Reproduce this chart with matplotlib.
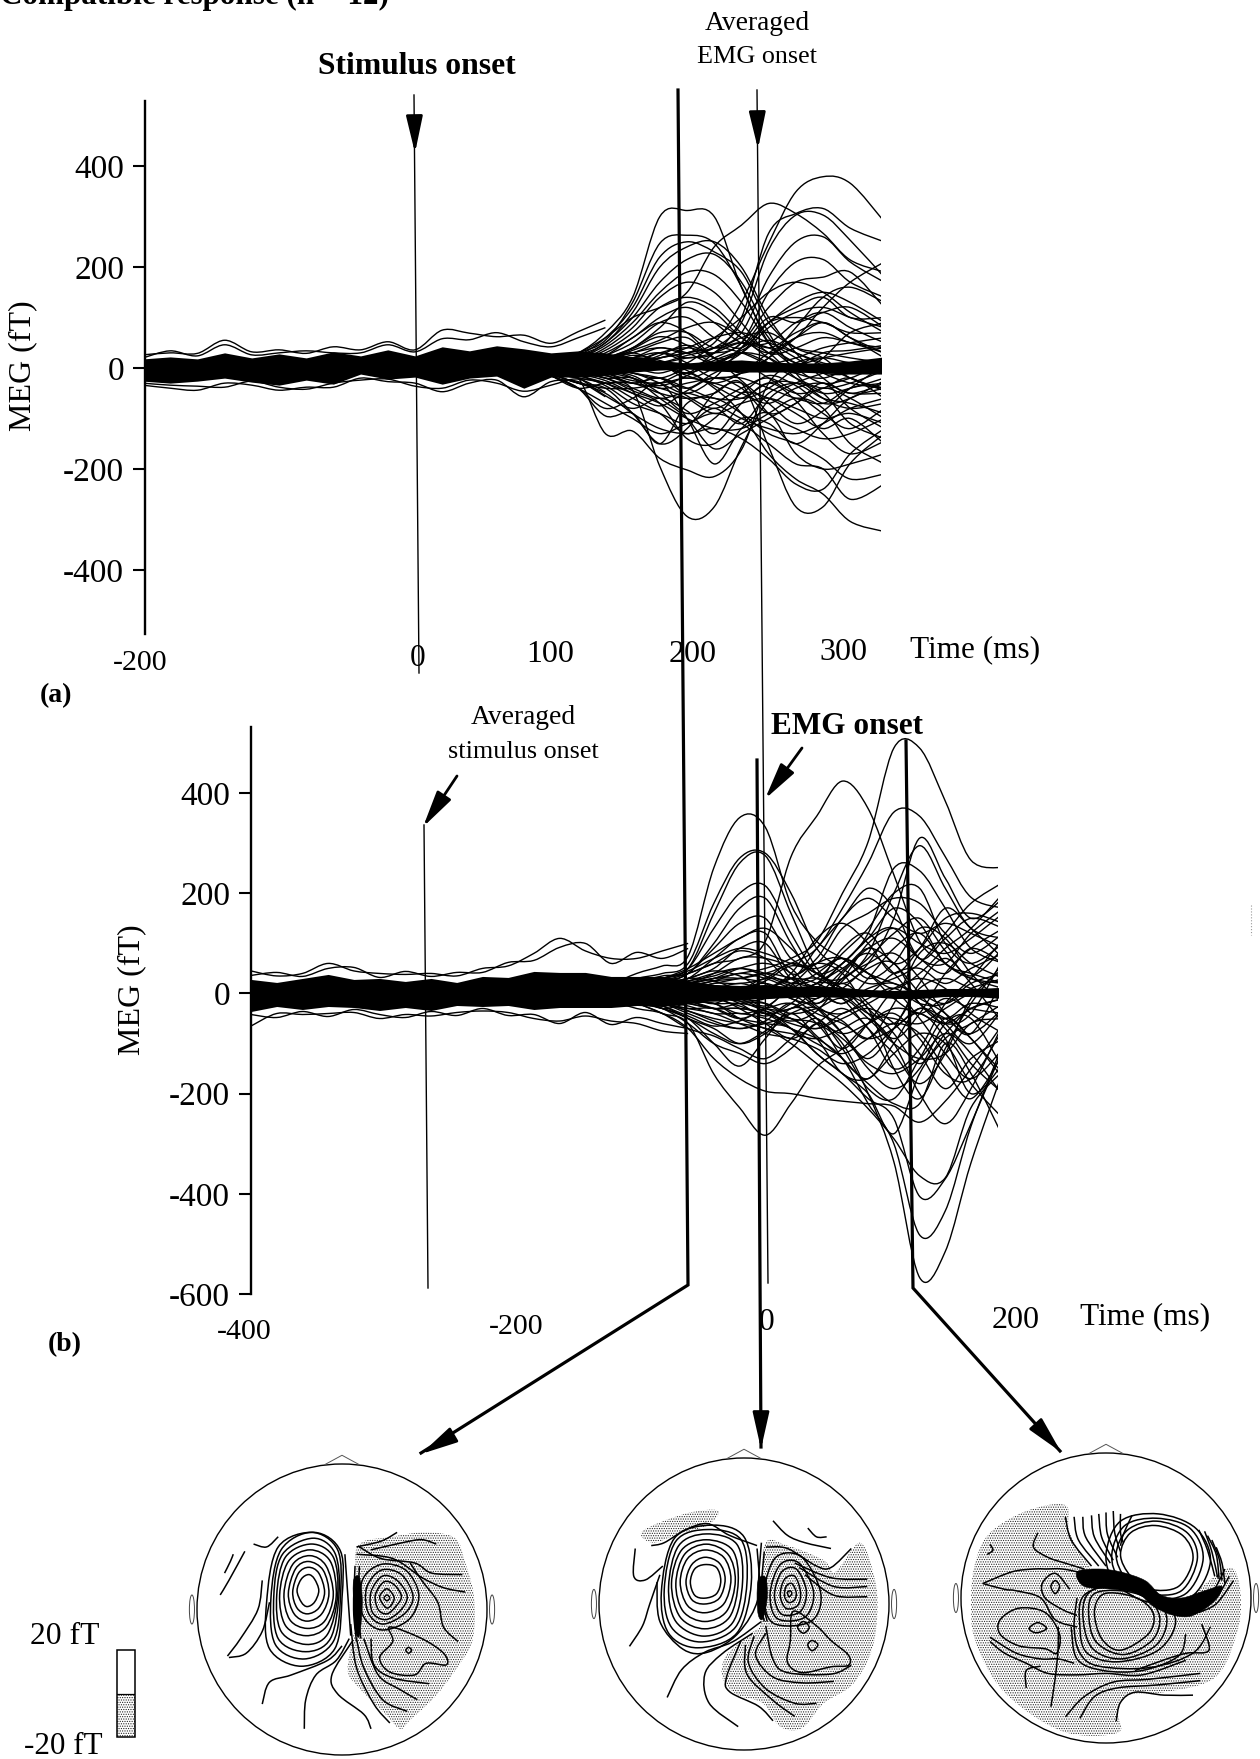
import numpy as np
import matplotlib
matplotlib.use('Agg')
import matplotlib.pyplot as plt
from matplotlib.patches import Ellipse, PathPatch, Polygon, Rectangle
from matplotlib.path import Path

plt.rcParams['font.family'] = ['Liberation Serif', 'DejaVu Serif']
plt.rcParams['hatch.linewidth'] = 0.55

W, H = 1260, 1759

# ---- panel (a) data: baseline band and fan of channels, fT against ms
band_a_t = [-200, -180, -160, -140, -120, -100, -80, -60, -40, -20, 0, 20, 40, 60, 80, 100, 120, 140,
            160, 180, 200, 220, 240, 260, 280, 300, 320, 345]
band_a_solid_top = [18, 22, 18, 30, 20, 28, 20, 32, 24, 36, 24, 42, 34, 44, 38, 30, 34, 30,
                    22, 15, 10, 14, 16, 12, 10, 10, 14, 22]
band_a_solid_bot = [-26, -30, -26, -20, -28, -34, -24, -32, -12, -22, -18, -32, -20, -16, -40, -18, -18, -15,
                    -8, -4, -2, -6, -8, -8, -8, -10, -12, -12]
edge_a_top = [26, 30, 29, 55, 32, 36, 29, 42, 36, 52, 36, 75, 69, 62, 65, 49, 72, 95]
edge_a_bot = [-34, -40, -44, -30, -34, -44, -38, -38, -20, -27, -30, -47, -30, -24, -57, -27, -27, -57]
edge_a_top2 = [20, 34, 24, 46, 26, 30, 34, 30, 30, 46, 32, 58, 56, 70, 52, 42, 60, 80]
edge_a_bot2 = [-30, -34, -36, -38, -26, -38, -42, -30, -24, -22, -36, -40, -24, -30, -46, -34, -22, -48]

fan_a_t = [100, 120, 140, 160, 180, 200, 220, 240, 260, 280, 300, 320, 345]
fan_a_lead = [15, 15, 12, 12, 10, 10, 8, 8, 6, 6, 5, 4, 3, 3, 15, 3, 0, 0, 0, 3, 0, 3, -3,
              -10, -10, -15, -12, -12, -15, -15, -12, -10, -8, -5, -5, -3, -3, 0, 0, 3, 3, 5, 5, 8, 0, -15, -3]
fan_a = [
    [30, 70, 140, 300, 312, 300, 160, 60, 20, -10, -30, -40],
    [30, 55, 130, 247, 263, 247, 161, 50, 0, -30, -20, 10],
    [25, 60, 120, 220, 250, 230, 190, 90, 40, 20, -20, -40],
    [25, 50, 110, 200, 240, 250, 200, 100, 30, -20, -50, -30],
    [20, 50, 100, 170, 215, 225, 170, 70, -10, -60, -80, -70],
    [20, 45, 90, 150, 190, 185, 130, 50, 10, 20, 30, 40],
    [15, 40, 80, 140, 170, 150, 90, 30, 40, 60, 50, 30],
    [15, 35, 70, 120, 140, 120, 70, 40, 70, 90, 60, 20],
    [10, 30, 60, 100, 120, 90, 50, 50, 90, 110, 80, 50],
    [10, 25, 50, 90, 100, 60, 40, 90, 130, 150, 130, 90],
    [10, 20, 40, 70, 70, 40, 50, 30, -20, -50, -40, -20],
    [5, 20, 30, 50, 60, 20, 30, 80, 110, 120, 100, 80],
    [5, 15, 30, 40, 30, 10, 40, 90, 100, 90, 70, 70],
    [5, 10, 20, 30, 10, -20, -10, 20, 60, 70, 50, 40],
    [30, 60, 100, 120, 150, 240, 283, 326, 306, 267, 214, 190],
    [5, 0, 5, 20, 30, 50, 130, 247, 349, 379, 366, 290],
    [0, 5, 10, 10, 20, 30, 100, 267, 306, 316, 277, 250],
    [0, 0, 5, 10, 25, 40, 90, 234, 303, 303, 253, 180],
    [0, 5, 10, 20, 30, 40, 70, 180, 250, 260, 210, 170],
    [5, 5, 10, 30, 40, 30, 50, 150, 210, 215, 170, 140],
    [0, 0, -10, -20, 0, 20, 50, 120, 170, 180, 190, 120],
    [5, 10, 20, 10, -20, 0, 30, 90, 120, 140, 100, 100],
    [-5, -10, -10, -30, -50, -20, 40, 100, 90, 110, 120, 80],
    [-20, -30, -44, -195, -294, -275, -156, -63, -30, -10, 10, 0],
    [-20, -130, -125, -179, -202, -215, -162, -30, 10, 20, 10, 0],
    [-40, -30, -30, -50, -60, -50, -30, -156, -275, -275, -189, -130],
    [-30, -40, -40, -30, -10, -40, -90, -170, -220, -250, -304, -324],
    [-30, -50, -90, -120, -130, -120, -140, -180, -230, -240, -170, -120],
    [-40, -70, -100, -130, -110, -90, -110, -150, -190, -200, -260, -230],
    [-40, -95, -90, -150, -70, -60, -90, -130, -150, -180, -220, -210],
    [-30, -40, -90, -150, -120, -50, -30, -90, -120, -140, -130, -100],
    [-20, -30, -60, -90, -130, -100, -50, -60, -90, -120, -100, -150],
    [-15, -30, -50, -70, -100, -120, -120, -90, -60, -80, -150, -190],
    [-10, -20, -40, -60, -50, -70, -100, -120, -130, -110, -80, -60],
    [-10, -15, -30, -40, -60, -90, -70, -60, -80, -100, -90, -110],
    [-5, -20, -20, -50, -90, -70, -40, -20, -50, -90, -120, -80],
    [-5, -10, -30, -20, -40, -60, -60, -30, -30, -60, -70, -90],
    [0, -10, -25, -30, -20, -30, -50, -70, -40, -30, -50, -50],
    [0, -5, -15, -40, -30, -20, -20, -40, -60, -70, -40, -30],
    [5, 0, -10, -20, -40, -10, 10, -20, -50, -40, -20, -60],
    [5, 10, 0, 10, -10, 10, 30, 20, -10, -20, 0, 10],
    [10, 5, 10, 30, 20, 30, 50, 40, 10, -10, -10, 20],
    [10, 15, 20, 20, 40, 60, 70, 50, 30, 10, 0, -10],
    [15, 20, 30, 10, -10, 30, 60, 70, 40, 30, 20, 10],
    [0, -5, 0, -10, 10, 40, 30, 10, 20, 40, 50, 60],
    [-40, -80, -60, -30, -100, -190, -120, -90, -170, -200, -190, -170],
    [-5, -5, -20, -60, -100, -160, -130, -100, -70, -40, -60, -100],
]
fan_a_extra = [
    [5, 10, 20, 40, 80, 130, 110, 60, 30, 60, 120, 170, 210],
    [5, 12, 25, 60, 90, 70, 20, -10, 20, 80, 140, 160, 130],
    [3, 8, 15, 35, 55, 80, 90, 60, 20, -10, 20, 70, 90],
    [3, 5, 10, 20, 40, 30, 60, 100, 150, 170, 150, 110, 70],
    [0, 3, 8, 15, 5, -15, -30, -10, 30, 60, 90, 60, 30],
    [0, -3, -8, -20, -35, -15, 15, 30, 10, -20, -40, -30, -5],
    [-3, -8, -15, -30, -20, -55, -80, -50, -15, -35, -70, -60, -25],
    [-5, -12, -25, -50, -75, -45, -20, -40, -90, -70, -30, -80, -120],
    [-5, -15, -35, -70, -90, -110, -80, -110, -50, -30, -50, -110, -140],
    [-3, -10, -20, -45, -70, -140, -150, -100, -110, -150, -110, -60, -40],
    [-8, -20, -55, -80, -60, -85, -130, -70, -30, -65, -130, -170, -145],
    [0, 5, -5, 5, 25, 45, 20, -25, -70, -110, -85, -40, 5],
    [2, 6, 10, 25, 15, -5, -35, -60, -40, 0, 30, 35, 45],
    [4, 10, 18, 38, 62, 45, 10, 35, 55, 30, 5, -20, -45],
]

# ---- panel (b) data
band_b_t = [-400, -380, -360, -340, -320, -300, -280, -260, -240, -220, -200, -180, -160, -140, -120, -100,
            -80, -60, -40, -20, 0, 20, 40, 60, 80, 100, 120, 140, 160, 185]
band_b_solid_top = [28, 22, 30, 38, 28, 30, 24, 30, 22, 34, 32, 44, 42, 42, 34, 34,
                    34, 26, 18, 16, 18, 14, 16, 12, 8, 6, 8, 10, 10, 12]
band_b_solid_bot = [-36, -26, -32, -26, -28, -34, -28, -34, -24, -26, -24, -32, -28, -28, -28, -24,
                    -26, -20, -14, -12, -10, -8, -6, -8, -6, -10, -10, -6, -6, -10]
edge_b_top = [45, 35, 40, 60, 45, 40, 38, 40, 35, 50, 55, 80, 110, 85, 70, 70, 85, 100]
edge_b_bot = [-65, -40, -42, -40, -38, -50, -42, -45, -38, -35, -38, -50, -55, -45, -55, -60, -75, -80]
edge_b_top2 = [36, 42, 34, 50, 52, 32, 44, 34, 42, 42, 62, 66, 92, 100, 60, 82, 70, 90]
edge_b_bot2 = [-42, -48, -36, -46, -32, -42, -48, -36, -44, -30, -44, -42, -60, -38, -62, -48, -60, -70]

fan_b_t = [-120, -100, -80, -60, -40, -20, 0, 20, 40, 60, 80, 100, 120, 140, 160, 185]
fan_b_lead = [18, 10, 5, 5, 15, 12, 10, 8, 8, 5, 5, 3, 3, 3, 0, 0, 0, -3, -10, -15, -5, -3, -5, -5, -10,
              -8, -8, -5, -5, -3, -3, -3, 0, 0, 0, 3, 3, 3, 5, 5, 8, 8, -5, 0, 0, 10, 0]
fan_b = [
    [40, 55, 75, 251, 351, 332, 178, 104, 70, 40, 20, 0, -20, 10, 30],
    [20, 30, 40, 60, 70, 104, 273, 354, 424, 369, 237, 104, 60, 30, 10],
    [10, 20, 20, 30, 40, 50, 70, 104, 200, 303, 490, 490, 384, 266, 251],
    [10, 10, 15, 25, 30, 40, 60, 90, 170, 260, 362, 354, 273, 192, 170],
    [30, 40, 60, 180, 270, 280, 200, 90, 50, 20, 30, 60, 120, 180, 222],
    [25, 35, 50, 160, 260, 275, 160, 50, 20, 60, 150, 310, 230, 150, 190],
    [20, 30, 50, 130, 200, 215, 120, 40, 30, 80, 200, 295, 210, 130, 110],
    [15, 25, 40, 100, 170, 190, 100, 30, 60, 120, 250, 245, 170, 90, 60],
    [15, 20, 40, 90, 140, 150, 70, 60, 130, 160, 190, 180, 120, 80, 120],
    [10, 20, 30, 70, 110, 120, 40, 70, 150, 190, 150, 120, 140, 120, 90],
    [10, 15, 30, 50, 90, 100, 30, 20, 90, 120, 60, 90, 150, 160, 140],
    [5, 15, 20, 40, 70, 70, 50, 0, 30, 100, 130, 100, 80, 110, 160],
    [5, 10, 20, 30, 50, 60, 40, -20, 40, 90, 110, 70, 40, 90, 60],
    [5, 5, 10, 20, 30, 40, 30, 10, -20, 30, 90, 120, 60, 30, 20],
    [0, 5, 5, 20, 20, 30, 60, 40, 10, 0, 40, 50, 20, 50, 80],
    [0, 0, 5, 10, 20, 10, 30, 60, 40, -30, -60, 10, 30, 10, -10],
    [0, 0, 0, 0, 10, 0, 10, 40, 70, 40, -10, -40, -10, -30, -40],
    [-5, -5, 0, 5, 0, -10, 0, 20, 50, 80, 40, -20, -50, -20, -30],
    [-20, -40, -60, -161, -228, -283, -220, -147, -110, -60, -30, -40, -60, -30, -10],
    [-30, -40, -70, -130, -170, -195, -200, -209, -215, -220, -225, -257, -215, -150, -60],
    [-10, -15, -10, -20, -20, -30, -50, -60, -100, -200, -336, -567, -515, -338, -154],
    [-5, -15, -20, -30, -30, -40, -70, -90, -130, -220, -300, -482, -434, -265, -100],
    [-10, -20, -30, -30, -50, -60, -70, -120, -160, -210, -250, -405, -370, -260, -110],
    [-10, -20, -35, -50, -60, -70, -100, -140, -180, -230, -290, -364, -368, -228, -154],
    [-20, -30, -50, -100, -145, -90, -30, -50, -130, -180, -220, -220, -100, -160, -287],
    [-15, -30, -60, -100, -120, -140, -110, -60, -90, -140, -160, -130, -80, -120, -205],
    [-15, -25, -50, -70, -100, -80, -40, -30, -80, -150, -190, -150, -60, -50, -150],
    [-10, -20, -40, -60, -70, -60, -50, -90, -160, -170, -120, -80, -100, -180, -250],
    [-10, -20, -30, -40, -60, -80, -90, -110, -140, -120, -70, -40, -90, -200, -140],
    [-5, -15, -25, -40, -40, -50, -70, -100, -120, -90, -60, -80, -150, -210, -120],
    [-5, -10, -20, -30, -30, -40, -60, -70, -50, -30, -60, -120, -190, -130, -90],
    [-5, -10, -15, -20, -40, -30, -20, -50, -80, -60, -40, -90, -160, -170, -70],
    [0, -10, -15, -30, -20, -20, -40, -30, -10, -50, -100, -130, -120, -60, -50],
    [0, -5, -10, -15, -10, 0, -10, -40, -60, -90, -70, -30, -50, -80, -30],
    [0, 0, -5, -10, -25, -40, -30, -10, 20, -20, -80, -140, -80, -30, -10],
    [5, 0, 0, -5, -15, -10, 20, 30, 0, -40, -50, -60, -30, 0, 10],
    [5, 5, 0, 5, 10, 20, 0, -30, -40, -10, 10, -20, -20, 20, 40],
    [5, 5, 10, 15, 10, 10, 30, 20, -10, -70, -120, -180, -120, -10, 50],
    [10, 10, 15, 25, 40, 30, 10, -10, 30, 60, 80, 30, -40, -80, 30],
    [10, 15, 20, 30, 30, 20, -10, -20, 10, 50, 60, -20, -60, -40, 70],
    [15, 20, 20, 10, -10, -30, -30, 10, 60, 110, 170, 140, 60, 40, 20],
    [15, 15, 25, 40, 50, 40, 20, 30, 80, 130, 200, 210, 100, 60, 100],
    [-10, -30, -20, -20, -50, -70, -80, -90, -70, -50, -100, -200, -260, -190, -60],
    [0, 10, 10, 0, -10, -20, -50, -70, -40, -20, 10, 30, 10, -40, -80],
    [0, -5, 5, 10, 5, -5, 10, 0, -20, 10, 20, -10, -40, -90, -160],
    [20, 30, 45, 70, 90, 80, 60, 50, 70, 40, 10, 40, 90, 130, 200],
    [0, 5, 10, -5, -30, -60, -90, -60, -30, -70, -150, -110, -20, 30, 110],
]
fan_b_extra = [
    [8, 18, 30, 50, 80, 110, 130, 90, 40, 60, 110, 130, 70, 60, 120, 170],
    [6, 14, 25, 40, 60, 85, 70, 30, 90, 150, 210, 170, 70, 110, 150, 130],
    [4, 10, 20, 30, 45, 35, 10, 40, 110, 140, 100, 40, 90, 170, 130, 70],
    [2, 6, 12, 20, 15, 0, -25, 15, 60, 70, 30, 60, 130, 110, 40, -20],
    [0, 3, 5, 10, 0, -20, -45, -20, 20, 10, -40, -90, -40, 40, 90, 130],
    [-2, -5, -10, -15, -30, -50, -30, 5, -30, -80, -130, -70, 20, 70, 20, -60],
    [-4, -10, -20, -35, -55, -70, -55, -20, -60, -110, -60, 0, -50, -120, -170, -110],
    [-6, -15, -30, -50, -80, -100, -75, -40, -85, -130, -170, -100, -30, -70, -140, -200],
    [-8, -20, -40, -70, -85, -110, -130, -90, -50, -110, -190, -210, -130, -50, -90, -170],
    [-5, -12, -25, -45, -65, -55, -35, -70, -120, -160, -200, -280, -160, -90, -60, -20],
    [3, 8, 15, 30, 25, 10, 25, 55, 40, 0, -30, -150, -210, -110, -20, 60],
    [5, 12, 18, 25, 35, 50, 35, 15, 0, 45, 90, 60, 0, -60, -100, -30],
    [-3, -6, -12, -8, -20, 5, 30, 20, -25, -55, -90, -20, 80, 100, 60, 30],
    [2, 4, 8, 15, 5, -15, -35, -55, -35, 25, 70, 120, 150, 85, 35, 90],
]

yticks_a = [-400, -200, 0, 200, 400]
yticks_b = [-600, -400, -200, 0, 200, 400]

# ---- head maps, in head coordinates (-1..1 in both directions)
h1_rings = [
    [(-0.16, 0.13), (-0.19, 0.21), (-0.23, 0.24), (-0.28, 0.21), (-0.31, 0.13), (-0.28, 0.05), (-0.24, 0.02), (-0.19, 0.05)],
    [(-0.12, 0.12), (-0.16, 0.25), (-0.23, 0.29), (-0.3, 0.25), (-0.34, 0.12), (-0.31, 0.01), (-0.24, -0.03), (-0.16, 0.01)],
    [(-0.09, 0.11), (-0.13, 0.27), (-0.23, 0.33), (-0.32, 0.28), (-0.37, 0.11), (-0.33, -0.03), (-0.24, -0.08), (-0.14, -0.03)],
    [(-0.06, 0.1), (-0.11, 0.3), (-0.22, 0.37), (-0.34, 0.31), (-0.4, 0.11), (-0.36, -0.07), (-0.24, -0.13), (-0.12, -0.08)],
    [(-0.04, 0.09), (-0.08, 0.33), (-0.22, 0.41), (-0.37, 0.33), (-0.43, 0.1), (-0.39, -0.11), (-0.25, -0.18), (-0.11, -0.12)],
    [(-0.03, 0.1), (-0.06, 0.36), (-0.21, 0.45), (-0.39, 0.36), (-0.45, 0.1), (-0.42, -0.15), (-0.25, -0.24), (-0.1, -0.17)],
    [(-0.02, 0.12), (-0.05, 0.39), (-0.2, 0.49), (-0.41, 0.38), (-0.47, 0.1), (-0.44, -0.2), (-0.25, -0.29), (-0.08, -0.2)],
    [(-0.01, 0.1), (-0.03, 0.41), (-0.21, 0.53), (-0.42, 0.41), (-0.49, 0.08), (-0.46, -0.24), (-0.26, -0.34), (-0.06, -0.22)],
    [(0.0, 0.08), (-0.01, 0.4), (-0.19, 0.53), (-0.44, 0.43), (-0.52, 0.05), (-0.5, -0.27), (-0.28, -0.39), (-0.05, -0.27)],
    [(0.36, 0.08), (0.33, 0.13), (0.3, 0.14), (0.26, 0.09), (0.28, 0.04), (0.31, 0.01), (0.34, 0.03)],
    [(0.41, 0.09), (0.36, 0.17), (0.29, 0.19), (0.23, 0.1), (0.25, 0.0), (0.31, -0.03), (0.37, 0.02)],
    [(0.45, 0.09), (0.38, 0.2), (0.28, 0.23), (0.2, 0.12), (0.21, -0.02), (0.3, -0.07), (0.4, -0.01)],
    [(0.49, 0.09), (0.41, 0.24), (0.27, 0.27), (0.17, 0.15), (0.18, -0.02), (0.28, -0.1), (0.43, -0.03)],
    [(0.53, 0.1), (0.44, 0.27), (0.27, 0.31), (0.14, 0.2), (0.14, -0.03), (0.27, -0.14), (0.46, -0.07)],
    [(0.33, 0.08), (0.31, 0.1), (0.29, 0.08), (0.31, 0.06)],
    [(0.48, -0.28), (0.46, -0.26), (0.44, -0.28), (0.46, -0.3)],
    [(0.33, -0.12), (0.55, -0.2), (0.7, -0.3), (0.72, -0.38), (0.58, -0.37), (0.5, -0.45), (0.33, -0.43), (0.26, -0.33), (0.35, -0.22)],
]
h1_open = [
    [(-0.61, 0.45), (-0.52, 0.43), (-0.44, 0.5)],
    [(-0.81, 0.25), (-0.77, 0.33), (-0.75, 0.38)],
    [(-0.84, 0.1), (-0.78, 0.2), (-0.67, 0.4)],
    [(-0.79, -0.32), (-0.7, -0.2), (-0.58, 0.0), (-0.55, 0.2)],
    [(-0.78, -0.33), (-0.66, -0.3), (-0.55, -0.15), (-0.5, 0.05)],
    [(-0.55, -0.65), (-0.5, -0.5), (-0.35, -0.45), (-0.1, -0.35), (0.0, -0.25)],
    [(-0.26, -0.82), (-0.25, -0.62), (-0.18, -0.45), (-0.04, -0.35), (0.05, -0.2)],
    [(0.2, -0.82), (0.15, -0.72), (-0.03, -0.58), (-0.07, -0.45), (0.07, -0.22)],
    [(0.06, -0.1), (0.1, -0.4), (0.22, -0.65), (0.33, -0.78)],
    [(0.1, -0.2), (0.15, -0.4), (0.28, -0.62), (0.45, -0.7)],
    [(0.15, -0.2), (0.25, -0.45), (0.4, -0.55), (0.52, -0.62)],
    [(0.2, -0.2), (0.22, -0.38), (0.35, -0.47), (0.6, -0.51)],
    [(0.12, 0.43), (0.27, 0.35), (0.5, 0.32), (0.62, 0.25), (0.83, 0.24)],
    [(0.1, 0.38), (0.35, 0.35), (0.55, 0.22), (0.7, 0.15), (0.85, 0.12)],
    [(0.47, 0.32), (0.55, 0.2), (0.66, 0.05), (0.7, -0.12), (0.8, -0.22)],
    [(0.1, 0.43), (0.27, 0.47), (0.38, 0.53)],
    [(0.2, 0.41), (0.42, 0.46), (0.55, 0.48), (0.65, 0.45)],
    [(0.09, 0.3), (0.08, 0.0), (0.1, -0.22)],
    [(0.12, 0.3), (0.11, 0.0), (0.13, -0.2)],
    [(0.02, 0.38), (0.04, 0.1), (0.06, -0.18)],
]
h1_stipple = [(0.58, 0.53), (0.78, 0.49), (0.85, 0.32), (0.91, 0.09), (0.9, -0.21), (0.78, -0.42), (0.64, -0.6), (0.47, -0.76),
              (0.4, -0.82), (0.3, -0.72), (0.1, -0.52), (0.04, -0.42), (0.07, -0.21), (0.13, 0.0), (0.1, 0.42), (0.35, 0.5)]
h1_black = [(0.08, 0.2), (0.12, 0.22), (0.14, 0.05), (0.12, -0.18), (0.09, -0.14), (0.08, 0.02)]

h2_rings = [
    [(-0.16, 0.16), (-0.19, 0.25), (-0.27, 0.27), (-0.34, 0.24), (-0.37, 0.15), (-0.34, 0.06), (-0.27, 0.04), (-0.19, 0.07)],
    [(-0.13, 0.17), (-0.17, 0.28), (-0.27, 0.32), (-0.36, 0.27), (-0.4, 0.15), (-0.36, 0.03), (-0.27, 0.0), (-0.17, 0.04)],
    [(-0.09, 0.17), (-0.14, 0.32), (-0.27, 0.37), (-0.39, 0.31), (-0.44, 0.15), (-0.39, -0.01), (-0.27, -0.06), (-0.14, 0.0)],
    [(-0.06, 0.16), (-0.11, 0.34), (-0.26, 0.41), (-0.41, 0.34), (-0.47, 0.14), (-0.42, -0.05), (-0.27, -0.12), (-0.12, -0.05)],
    [(-0.04, 0.15), (-0.08, 0.37), (-0.26, 0.44), (-0.43, 0.37), (-0.5, 0.14), (-0.44, -0.09), (-0.27, -0.17), (-0.1, -0.09)],
    [(-0.01, 0.15), (-0.05, 0.41), (-0.26, 0.48), (-0.45, 0.4), (-0.52, 0.12), (-0.47, -0.12), (-0.28, -0.22), (-0.08, -0.13)],
    [(0.02, 0.14), (-0.02, 0.44), (-0.25, 0.51), (-0.47, 0.43), (-0.55, 0.1), (-0.5, -0.16), (-0.3, -0.26), (-0.06, -0.16)],
    [(0.05, 0.14), (0.0, 0.46), (-0.22, 0.54), (-0.48, 0.45), (-0.57, 0.08), (-0.52, -0.2), (-0.32, -0.3), (-0.05, -0.2)],
    [(0.33, 0.07), (0.32, 0.09), (0.3, 0.08), (0.31, 0.05)],
    [(0.36, 0.08), (0.33, 0.14), (0.29, 0.12), (0.28, 0.05), (0.31, 0.01), (0.35, 0.03)],
    [(0.39, 0.08), (0.35, 0.19), (0.28, 0.17), (0.25, 0.06), (0.29, -0.03), (0.37, -0.01)],
    [(0.43, 0.09), (0.36, 0.24), (0.26, 0.22), (0.21, 0.06), (0.26, -0.07), (0.39, -0.05)],
    [(0.48, 0.08), (0.38, 0.28), (0.25, 0.27), (0.18, 0.07), (0.23, -0.1), (0.42, -0.09)],
    [(0.53, 0.07), (0.4, 0.32), (0.22, 0.32), (0.14, 0.08), (0.2, -0.13), (0.46, -0.12)],
    [(0.45, -0.16), (0.41, -0.12), (0.37, -0.16), (0.41, -0.2)],
    [(0.51, -0.28), (0.47, -0.25), (0.44, -0.28), (0.47, -0.32)],
    [(0.34, -0.05), (0.5, -0.15), (0.6, -0.25), (0.72, -0.35), (0.72, -0.42), (0.6, -0.43), (0.4, -0.47), (0.3, -0.4), (0.32, -0.25)],
]
h2_open = [
    [(0.09, 0.38), (0.1, 0.05), (-0.04, -0.2), (-0.25, -0.33), (-0.42, -0.31), (-0.58, -0.12), (-0.6, 0.15)],
    [(-0.75, 0.38), (-0.76, 0.19), (-0.68, 0.165), (-0.56, 0.26)],
    [(-0.79, -0.29), (-0.7, -0.15), (-0.65, 0.0), (-0.58, 0.2)],
    [(-0.64, 0.4), (-0.55, 0.42), (-0.4, 0.51), (-0.25, 0.55), (-0.1, 0.47), (0.09, 0.4)],
    [(-0.53, -0.64), (-0.43, -0.45), (-0.27, -0.33), (-0.08, -0.26), (0.12, -0.12)],
    [(-0.04, -0.84), (-0.24, -0.68), (-0.27, -0.48), (-0.15, -0.34), (0.06, -0.2)],
    [(0.2, 0.57), (0.3, 0.47), (0.42, 0.42), (0.6, 0.38)],
    [(0.44, 0.52), (0.5, 0.46), (0.57, 0.46)],
    [(0.15, 0.39), (0.3, 0.38), (0.5, 0.26), (0.6, 0.25), (0.74, 0.38)],
    [(0.35, 0.28), (0.6, 0.18), (0.85, 0.17)],
    [(0.38, 0.25), (0.62, 0.12), (0.85, 0.12)],
    [(0.42, 0.2), (0.62, 0.06), (0.85, 0.05)],
    [(0.15, -0.15), (0.2, -0.38), (0.3, -0.47), (0.6, -0.48), (0.74, -0.42)],
    [(0.15, -0.2), (0.08, -0.35), (0.2, -0.5), (0.4, -0.54), (0.62, -0.53)],
    [(0.07, -0.22), (0.03, -0.4), (0.15, -0.58), (0.35, -0.68), (0.5, -0.68)],
    [(0.01, -0.28), (0.02, -0.48), (0.2, -0.66), (0.35, -0.77)],
    [(-0.02, -0.25), (-0.12, -0.5), (-0.1, -0.6), (0.1, -0.7), (0.2, -0.8)],
    [(0.12, 0.42), (0.1, 0.1), (0.14, -0.12)],
    [(0.14, 0.36), (0.12, 0.08), (0.16, -0.12)],
]
h2_stipple = [(0.14, 0.4), (0.3, 0.4), (0.55, 0.3), (0.63, 0.22), (0.8, 0.42), (0.9, 0.18), (0.92, -0.05), (0.88, -0.32),
              (0.75, -0.55), (0.55, -0.68), (0.4, -0.85), (0.25, -0.84), (0.13, -0.68), (-0.05, -0.62), (-0.15, -0.5),
              (-0.12, -0.35), (0.05, -0.2), (0.12, -0.1)]
h2_stipple2 = [(-0.7, 0.5), (-0.4, 0.62), (-0.18, 0.64), (-0.25, 0.54), (-0.45, 0.48), (-0.63, 0.42)]
h2_black = [(0.1, 0.17), (0.15, 0.18), (0.16, 0.04), (0.13, -0.1), (0.1, -0.08), (0.09, 0.04)]

h3_rings = [
    [(0.6, 0.27), (0.53, 0.43), (0.34, 0.5), (0.17, 0.45), (0.1, 0.3), (0.17, 0.15), (0.3, 0.06), (0.5, 0.08)],
    [(0.63, 0.27), (0.56, 0.45), (0.35, 0.53), (0.15, 0.47), (0.07, 0.3), (0.14, 0.13), (0.3, 0.03), (0.52, 0.05)],
    [(0.67, 0.27), (0.58, 0.48), (0.35, 0.55), (0.13, 0.5), (0.04, 0.3), (0.1, 0.12), (0.3, 0.0), (0.55, 0.03)],
    [(0.72, 0.25), (0.62, 0.48), (0.36, 0.58), (0.1, 0.53), (0.0, 0.3), (0.07, 0.1), (0.3, -0.03), (0.58, 0.0)],
    [(0.33, -0.12), (0.29, -0.25), (0.1, -0.36), (-0.03, -0.28), (-0.08, -0.1), (-0.03, 0.02), (0.1, 0.03), (0.25, -0.02)],
    [(0.37, -0.13), (0.32, -0.29), (0.12, -0.39), (-0.07, -0.3), (-0.12, -0.1), (-0.08, 0.03), (0.1, 0.05), (0.28, 0.0)],
    [(0.42, -0.15), (0.34, -0.33), (0.1, -0.42), (-0.1, -0.34), (-0.16, -0.1), (-0.1, 0.05), (0.12, 0.08), (0.33, 0.02)],
    [(0.48, -0.16), (0.36, -0.36), (0.08, -0.44), (-0.13, -0.38), (-0.18, -0.2), (-0.15, 0.02), (0.12, 0.1), (0.36, 0.02)],
    [(-0.41, -0.21), (-0.47, -0.17), (-0.53, -0.21), (-0.48, -0.24)],
    [(-0.32, 0.08), (-0.35, 0.12), (-0.38, 0.08), (-0.35, 0.03)],
    [(-0.32, -0.25), (-0.42, -0.1), (-0.6, -0.07), (-0.73, -0.15), (-0.73, -0.25), (-0.6, -0.33), (-0.42, -0.35), (-0.34, -0.38)],
]
h3_open = [
    [(0.72, -0.2), (0.6, -0.38), (0.3, -0.48), (-0.05, -0.47), (-0.18, -0.38), (-0.22, -0.2), (-0.2, 0.0)],
    [(0.66, -0.18), (0.71, -0.36), (0.56, -0.38), (0.42, -0.42), (0.2, -0.5)],
    [(0.55, -0.25), (0.5, -0.4), (0.25, -0.5), (-0.02, -0.5), (-0.2, -0.42), (-0.24, -0.2)],
    [(-0.25, 0.06), (-0.35, 0.17), (-0.44, 0.1), (-0.42, 0.0), (-0.3, -0.08), (-0.2, -0.12)],
    [(-0.85, 0.1), (-0.65, 0.18), (-0.5, 0.2), (-0.42, 0.2), (-0.3, 0.2), (-0.15, 0.17)],
    [(-0.85, 0.1), (-0.7, 0.06), (-0.62, 0.05), (-0.45, 0.0), (-0.35, -0.15), (-0.2, -0.2)],
    [(-0.8, 0.37), (-0.78, 0.33), (-0.82, 0.3)],
    [(-0.47, 0.45), (-0.5, 0.35), (-0.4, 0.28), (-0.28, 0.24), (-0.15, 0.2)],
    [(-0.8, -0.3), (-0.7, -0.38), (-0.55, -0.45), (-0.4, -0.52), (-0.2, -0.53), (0.0, -0.52), (0.25, -0.53), (0.55, -0.43)],
    [(-0.8, -0.27), (-0.62, -0.38), (-0.45, -0.42), (-0.33, -0.42), (-0.22, -0.45)],
    [(-0.55, -0.62), (-0.55, -0.5), (-0.45, -0.47)],
    [(-0.38, -0.75), (-0.35, -0.55), (-0.33, -0.35), (-0.33, -0.2)],
    [(-0.28, -0.82), (-0.15, -0.68), (0.05, -0.58), (0.3, -0.56), (0.65, -0.52)],
    [(-0.18, -0.83), (-0.08, -0.68), (0.08, -0.62), (0.35, -0.6), (0.65, -0.57)],
    [(0.07, -0.85), (0.1, -0.72), (0.2, -0.65), (0.4, -0.67), (0.6, -0.67)],
    [(-0.28, 0.56), (-0.24, 0.4), (-0.1, 0.22)],
    [(-0.22, 0.56), (-0.19, 0.4), (-0.05, 0.22)],
    [(-0.16, 0.56), (-0.14, 0.42), (0.0, 0.22)],
    [(-0.1, 0.57), (-0.08, 0.42), (0.03, 0.24)],
    [(-0.05, 0.58), (-0.03, 0.42), (0.05, 0.26)],
    [(0.0, 0.59), (0.01, 0.44), (0.08, 0.28)],
    [(0.05, 0.6), (0.06, 0.45), (0.1, 0.32)],
    [(0.1, 0.58), (0.1, 0.45), (0.12, 0.38)],
    [(0.18, 0.57), (0.12, 0.44), (0.1, 0.36)],
    [(0.64, 0.47), (0.7, 0.33), (0.75, 0.15)],
    [(0.68, 0.46), (0.73, 0.32), (0.77, 0.14)],
    [(0.7, 0.43), (0.76, 0.3), (0.78, 0.13)],
    [(0.73, 0.4), (0.78, 0.27), (0.8, 0.12)],
    [(0.76, 0.35), (0.8, 0.24), (0.82, 0.1)],
    [(0.82, 0.2), (0.76, 0.08), (0.7, 0.0)],
    [(0.85, 0.15), (0.78, 0.03), (0.7, -0.05)],
    [(0.88, 0.12), (0.76, -0.04), (0.64, -0.1)],
]
h3_stipple = [(-0.93, 0.0), (-0.9, 0.25), (-0.8, 0.45), (-0.55, 0.6), (-0.28, 0.64), (-0.25, 0.45), (-0.1, 0.2), (0.05, 0.1),
              (0.3, -0.02), (0.55, 0.0), (0.75, 0.15), (0.88, 0.2), (0.93, 0.0), (0.9, -0.25), (0.75, -0.55), (0.4, -0.65),
              (0.15, -0.67), (0.08, -0.78), (0.08, -0.93), (-0.3, -0.92), (-0.7, -0.65), (-0.9, -0.3)]
h3_black = [(-0.2, 0.18), (-0.05, 0.2), (0.1, 0.18), (0.27, 0.12), (0.38, 0.02), (0.52, 0.0), (0.68, 0.05), (0.8, 0.08),
            (0.75, -0.02), (0.6, -0.12), (0.47, -0.12), (0.33, -0.06), (0.22, 0.03), (0.05, 0.06), (-0.15, 0.08)]

nose = [(-0.12, 0.995), (0.0, 1.06), (0.12, 0.995)]


def smooth_path(pts, closed=False):
    # Catmull-Rom through the read points, written as bezier segments
    pts = np.asarray(pts, dtype=float)
    n = len(pts)
    verts = [pts[0]]
    codes = [Path.MOVETO]
    for i in range(n if closed else n - 1):
        if closed:
            p0, p1, p2, p3 = pts[(i - 1) % n], pts[i], pts[(i + 1) % n], pts[(i + 2) % n]
        else:
            p0, p1, p2, p3 = pts[max(i - 1, 0)], pts[i], pts[i + 1], pts[min(i + 2, n - 1)]
        verts += [p1 + (p2 - p0) / 6, p2 - (p3 - p1) / 6, p2]
        codes += [Path.CURVE4, Path.CURVE4, Path.CURVE4]
    return Path(verts, codes)


def draw_curve(ax, pts, closed=False, lw=1.0):
    ax.add_patch(PathPatch(smooth_path(pts, closed), fill=False, edgecolor='black', lw=lw))


def px_axes(x0, y0, x1, y1):
    # axes from a box given in picture pixels (y from the top)
    return fig.add_axes([x0 / W, 1 - y1 / H, (x1 - x0) / W, (y1 - y0) / H])


def draw_panel(ax, band_t, solid_top, solid_bot, edges, fan_t, leads, fan, extra, yticks):
    ax.fill_between(band_t, solid_top, solid_bot, color='black', lw=0)
    for edge in edges:
        draw_curve(ax, list(zip(band_t[:len(edge)], edge)))
    for lead, row in zip(leads, fan):
        draw_curve(ax, list(zip(fan_t, [lead] + row)))
    for row in extra:
        draw_curve(ax, list(zip(fan_t, row)))
    for side in ['top', 'right', 'bottom']:
        ax.spines[side].set_visible(False)
    ax.spines['left'].set_linewidth(1.7)
    ax.set_xticks([])
    ax.set_yticks(yticks)
    ax.set_yticklabels([str(v) for v in yticks])
    ax.tick_params(axis='y', length=9, width=1.5, labelsize=24, pad=6)
    ax.patch.set_alpha(0)


def draw_head(box, stipples, black):
    x0, y0, x1, y1 = box
    ax = px_axes(x0, y0, x1, y1)
    ax.set_xlim(-1, 1)
    ax.set_ylim(-1, 1)
    ax.axis('off')
    for poly in stipples:
        ax.add_patch(PathPatch(smooth_path(poly, True), facecolor='none', edgecolor='#222222', hatch='.......', lw=0))
    ax.add_patch(PathPatch(smooth_path(black, True), facecolor='black', edgecolor='black', lw=0.4))
    ax.add_patch(Ellipse((0, 0), 2, 2, fill=False, edgecolor='black', lw=1.0, clip_on=False))
    ax.add_patch(Polygon(nose, closed=False, fill=False, edgecolor='#555555', lw=0.7, clip_on=False))
    for sx in [-1, 1]:
        ax.add_patch(Ellipse((sx * 1.035, 0.0), 0.035, 0.2, fill=False, edgecolor='#444444', lw=0.7, clip_on=False))
    return ax


fig = plt.figure(figsize=(W / 100, H / 100), dpi=100, facecolor='white')

# panel (a)
ax_a = px_axes(145, 101, 881, 634)
ax_a.set_xlim(-198.5, 342.6)
ax_a.set_ylim(-527, 529)
draw_panel(ax_a, band_a_t, band_a_solid_top, band_a_solid_bot,
           [edge_a_top, edge_a_bot, edge_a_top2, edge_a_bot2],
           fan_a_t, fan_a_lead, fan_a, fan_a_extra, yticks_a)

# panel (b)
ax_b = px_axes(251, 727, 998, 1294)
ax_b.set_xlim(-400, 181)
ax_b.set_ylim(-600, 532)
draw_panel(ax_b, band_b_t, band_b_solid_top, band_b_solid_bot,
           [edge_b_top, edge_b_bot, edge_b_top2, edge_b_bot2],
           fan_b_t, fan_b_lead, fan_b, fan_b_extra, yticks_b)

# topographic maps
ax1 = draw_head((197, 1464, 487, 1755), [h1_stipple], h1_black)
ax2 = draw_head((599, 1458, 889, 1750), [h2_stipple, h2_stipple2], h2_black)
ax3 = draw_head((961, 1453, 1251, 1743), [h3_stipple], h3_black)
for ax, rings, opens in [(ax1, h1_rings, h1_open), (ax2, h2_rings, h2_open), (ax3, h3_rings, h3_open)]:
    for ring in rings:
        draw_curve(ax, ring, closed=True, lw=1.1)
    for line in opens:
        draw_curve(ax, line, lw=1.1)

# colour key
ax_key = px_axes(117, 1650, 135, 1737)
ax_key.set_xlim(0, 1)
ax_key.set_ylim(-20, 20)
ax_key.axis('off')
ax_key.add_patch(Rectangle((0, -20), 1, 20, facecolor='none', edgecolor='#222222', hatch='.......', lw=0))
ax_key.add_patch(Rectangle((0, -20), 1, 40, fill=False, edgecolor='black', lw=1.1, clip_on=False))
ax_key.plot([0, 1], [0, 0], color='black', lw=0.9)

# overlay in picture pixels for leader lines, arrows and all the free text
ov = fig.add_axes([0, 0, 1, 1], zorder=10)
ov.set_xlim(0, W)
ov.set_ylim(H, 0)
ov.axis('off')
ov.patch.set_alpha(0)

thick_lines = [
    [(678, 90), (688, 1285), (421, 1453)],
    [(757, 760), (761, 1447)],
    [(906, 741), (913, 1288), (1060, 1451)],
]
thin_lines = [
    [(414, 95), (419, 673)],
    [(757, 90), (768, 1283)],
    [(424, 825), (428, 1288)],
]
for line in thick_lines:
    xs, ys = zip(*line)
    ov.plot(xs, ys, color='black', lw=2.3, solid_joinstyle='miter')
for line in thin_lines:
    xs, ys = zip(*line)
    ov.plot(xs, ys, color='black', lw=1.0)
ov.plot([1251, 1251], [905, 935], color='#999999', lw=0.8, ls=':')

arrows = [
    ((414.5, 122), (415, 153)),
    ((757.5, 122), (758, 149)),
    ((457, 776), (423, 827)),
    ((802, 748), (765, 799)),
    ((450, 1437), (421, 1454)),
    ((761, 1425), (761, 1449)),
    ((1042, 1431), (1061, 1452)),
]
for start, end in arrows:
    ov.annotate('', xy=end, xytext=start, xycoords='data', textcoords='data',
                arrowprops=dict(arrowstyle='-|>,head_length=1.6,head_width=0.36', color='black', lw=2.0,
                                mutation_scale=14, shrinkA=0, shrinkB=0))

texts = [
    (0, 4, 'Compatible response (n = 12)', 22.4, 'bold', 'left', 'baseline'),
    (417, 66, 'Stimulus onset', 22.8, 'bold', 'center', 'center'),
    (757, 23, 'Averaged', 19.8, 'normal', 'center', 'center'),
    (757, 57, 'EMG onset', 18.8, 'normal', 'center', 'center'),
    (140, 663, '-200', 21.5, 'normal', 'center', 'center'),
    (418, 659, '0', 22.5, 'normal', 'center', 'center'),
    (550, 655, '100', 23, 'normal', 'center', 'center'),
    (693, 655, '200', 23, 'normal', 'center', 'center'),
    (843, 653, '300', 23, 'normal', 'center', 'center'),
    (975, 650, 'Time (ms)', 22.5, 'normal', 'center', 'center'),
    (56, 696, '(a)', 20, 'bold', 'center', 'center'),
    (523, 718, 'Averaged', 19.8, 'normal', 'center', 'center'),
    (523, 752, 'stimulus onset', 18.8, 'normal', 'center', 'center'),
    (847, 727, 'EMG onset', 22.5, 'bold', 'center', 'center'),
    (244, 1332, '-400', 21.5, 'normal', 'center', 'center'),
    (516, 1327, '-200', 21.5, 'normal', 'center', 'center'),
    (767, 1323, '0', 22.5, 'normal', 'center', 'center'),
    (1016, 1321, '200', 23, 'normal', 'center', 'center'),
    (1145, 1317, 'Time (ms)', 22.5, 'normal', 'center', 'center'),
    (65, 1345, '(b)', 20, 'bold', 'center', 'center'),
    (65, 1637, '20 fT', 22.8, 'normal', 'center', 'center'),
    (63, 1746, '-20 fT', 22.4, 'normal', 'center', 'center'),
]
for x, y, s, size, weight, ha, va in texts:
    ov.text(x, y, s, fontsize=size, fontweight=weight, ha=ha, va=va, color='black')
ov.text(23, 366, 'MEG (fT)', fontsize=23, rotation=90, ha='center', va='center')
ov.text(132, 990, 'MEG (fT)', fontsize=23, rotation=90, ha='center', va='center')

fig.savefig('out.png', dpi=100)
